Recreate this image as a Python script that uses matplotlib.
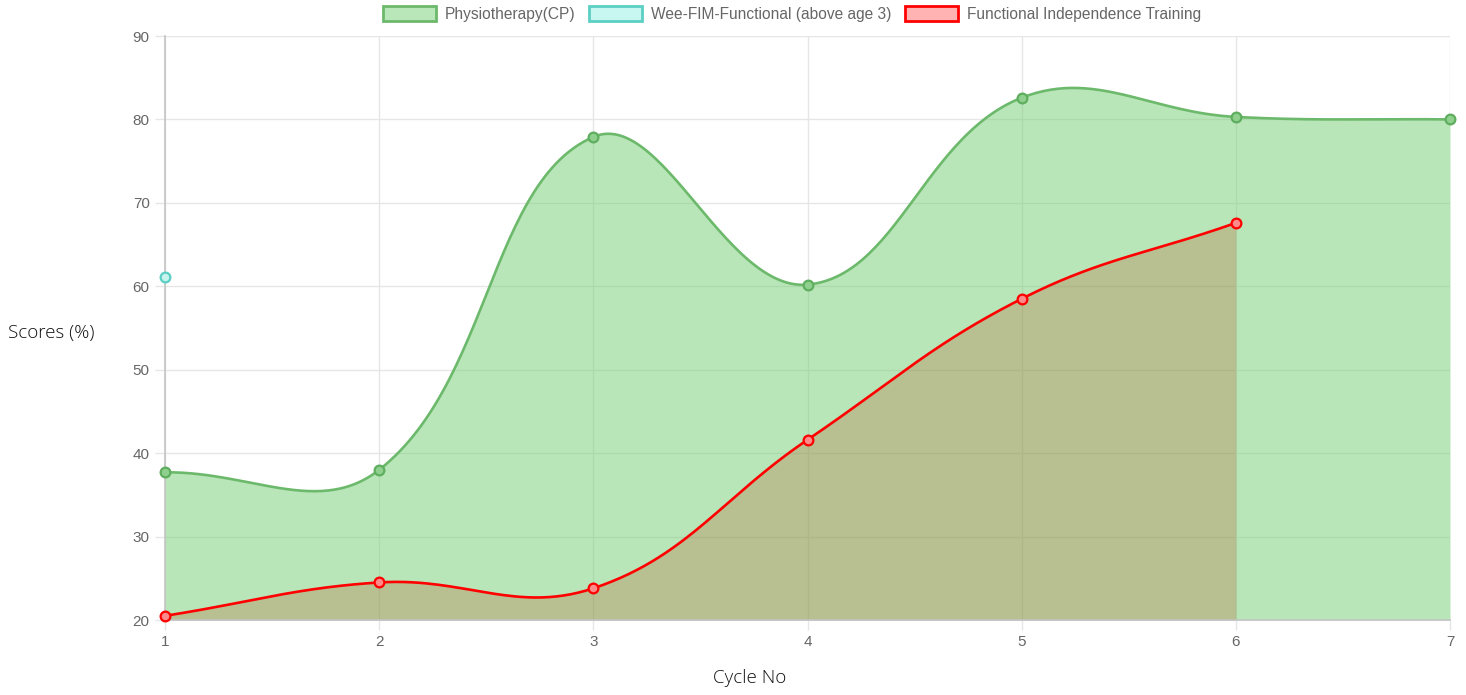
import numpy as np
import matplotlib
matplotlib.use("Agg")
import matplotlib.pyplot as plt
from matplotlib.patches import Patch

# ---- data ----
cycles = [1, 2, 3, 4, 5, 6, 7]
physio = [37.7, 38.0, 77.9, 60.2, 82.6, 80.3, 80.0]
weefim_x = [1]
weefim = [61.1]
fit_x = [1, 2, 3, 4, 5, 6]
fit = [20.5, 24.5, 23.8, 41.6, 58.5, 67.6]
y_ticks = [20, 30, 40, 50, 60, 70, 80, 90]
labels = ["Physiotherapy(CP)", "Wee-FIM-Functional (above age 3)", "Functional Independence Training"]

W, H = 1466, 695
fig = plt.figure(figsize=(W / 100, H / 100), dpi=100)
L, R, T, B = 165, 1450, 36, 620
ax = fig.add_axes([L / W, 1 - B / H, (R - L) / W, (B - T) / H])
ax.set_xlim(1, 7)
ax.set_ylim(20, 90)


def spline(xs, ys, t=0.4, n=60):
    pts = ax.transData.transform(np.column_stack([xs, ys]))
    m = len(pts)
    cps = []
    for i in range(m):
        cur = pts[i]
        prev = pts[i - 1] if i > 0 else cur
        nxt = pts[i + 1] if i < m - 1 else cur
        d01 = np.hypot(*(cur - prev))
        d12 = np.hypot(*(nxt - cur))
        s = d01 + d12
        s01 = d01 / s if s else 0
        s12 = d12 / s if s else 0
        cp_prev = cur - t * s01 * (nxt - prev)
        cp_next = cur + t * s12 * (nxt - prev)
        cps.append((cp_prev, cp_next))
    out = [pts[0]]
    tt = np.linspace(0, 1, n)[1:, None]
    for i in range(m - 1):
        p0 = pts[i]
        p1 = cps[i][1]
        p2 = cps[i + 1][0]
        p3 = pts[i + 1]
        seg = ((1 - tt) ** 3) * p0 + 3 * ((1 - tt) ** 2) * tt * p1 + 3 * (1 - tt) * tt ** 2 * p2 + tt ** 3 * p3
        out.extend(seg)
    out = np.array(out)
    d = ax.transData.inverted().transform(out)
    return d[:, 0], d[:, 1]


grid_c = "#e6e6e6"
ax.set_yticks(y_ticks)
ax.set_xticks(cycles)
ax.grid(True, color=grid_c, linewidth=1, zorder=0)
ax.set_axisbelow(True)
for s in ["top", "right"]:
    ax.spines[s].set_visible(False)
for s in ["left", "bottom"]:
    ax.spines[s].set_color("#c4c4c4")
    ax.spines[s].set_linewidth(1.2)
ax.tick_params(axis="both", length=7, width=1, color=grid_c, labelcolor="#666666",
               labelsize=11, pad=4)
for lab in ax.get_xticklabels() + ax.get_yticklabels():
    lab.set_fontfamily("Liberation Sans")

# FIT (red)
fx, fy = spline(fit_x, fit)
ax.fill_between(fx, 20, fy, color=(1, 0, 0), alpha=0.3, linewidth=0, zorder=1)
# Physio (green)
gx, gy = spline(cycles, physio)
ax.fill_between(gx, 20, gy, color=(115 / 255, 207 / 255, 115 / 255), alpha=0.5, linewidth=0, zorder=2)
ax.plot(gx, gy, color="#6cb96c", linewidth=1.9, zorder=3, clip_on=False)
ax.plot(cycles, physio, "o", ms=7, mfc="#8fd08f", mec="#5fae5f", mew=1.6, zorder=4, clip_on=False)
# FIT line
ax.plot(fx, fy, color="#ff0000", linewidth=1.9, zorder=5, clip_on=False)
ax.plot(fit_x, fit, "o", ms=7, mfc="#ff8a8a", mec="#ff0000", mew=1.6, zorder=6, clip_on=False)
# Wee-FIM
ax.plot(weefim_x, weefim, "o", ms=7, mfc="#c8f3ee", mec="#5ccfc4", mew=1.6, zorder=6, clip_on=False)

# axis titles
fig.text(8 / W, 1 - 333 / H, "Scores (%)", fontfamily="Open Sans", fontweight="light",
         fontsize=13.5, color="#111111", ha="left", va="center")
fig.text(750 / W, 1 - 678 / H, "Cycle No", fontfamily="Open Sans", fontweight="light",
         fontsize=13.5, color="#111111", ha="center", va="center")

handles = [
    Patch(facecolor="#b9e7b9", edgecolor="#6cb96c", linewidth=2),
    Patch(facecolor="#c8f6f0", edgecolor="#5ccfc4", linewidth=2),
    Patch(facecolor="#ffb3b3", edgecolor="#ff0000", linewidth=2),
]
leg = fig.legend(handles, labels, loc="center", bbox_to_anchor=(792 / W, 1 - 14 / H),
                 ncol=3, frameon=False, handlelength=3.4, handleheight=1.05,
                 handletextpad=0.6, columnspacing=0.85,
                 prop={"family": "Liberation Sans", "size": 11.2})
for t in leg.get_texts():
    t.set_color("#666666")

fig.savefig("out.png", dpi=100)
